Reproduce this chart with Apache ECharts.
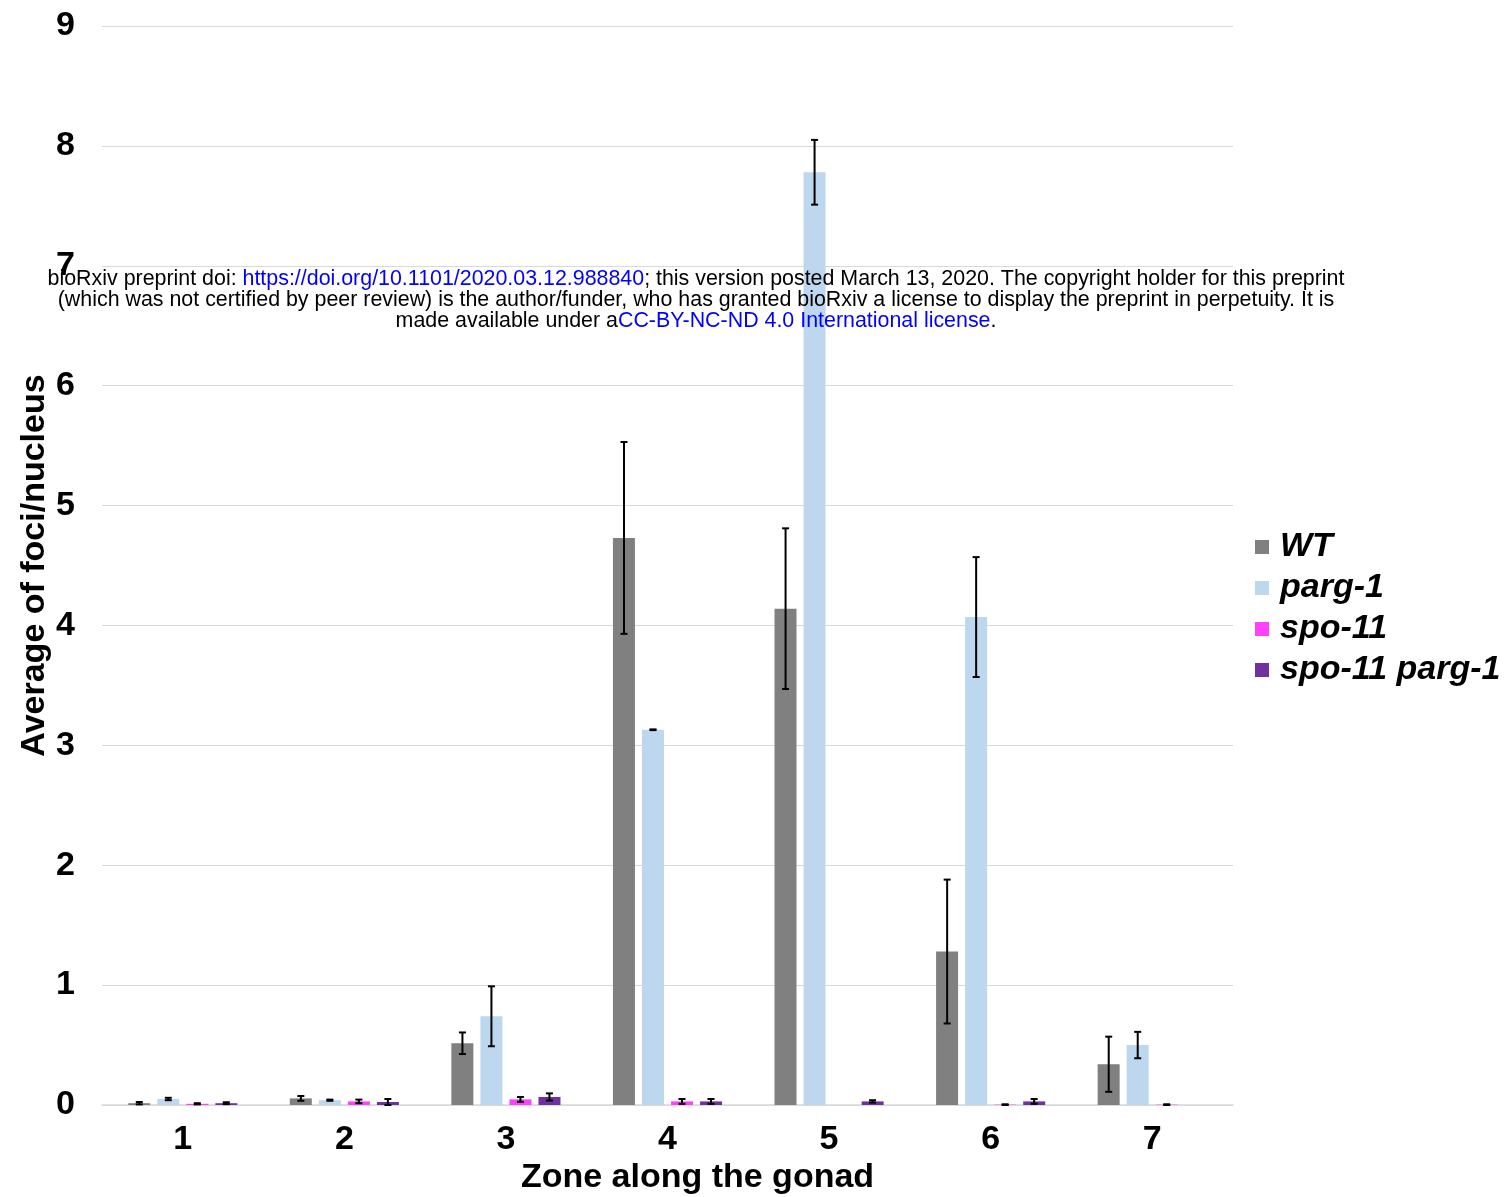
<!DOCTYPE html>
<html>
<head>
<meta charset="utf-8">
<script src="https://cdn.jsdelivr.net/npm/echarts@6/dist/echarts.min.js"></script>
<style>
  html, body { margin: 0; padding: 0; background: #fff; }
  #chart { width: 1512px; height: 1197px; }
</style>
</head>
<body>
<div id="chart"></div>
<script>
// zones along the gonad
const zones = ["1", "2", "3", "4", "5", "6", "7"];
const seriesNames = ["WT", "parg-1", "spo-11", "spo-11 parg-1"];
const colors = ["#808080", "#bdd7ee", "#ff40ff", "#7030a0"];

// mean foci per nucleus
const wtMean = [0.015, 0.055, 0.515, 4.73, 4.14, 1.28, 0.34];
const parg1Mean = [0.05, 0.04, 0.74, 3.13, 7.78, 4.07, 0.50];
const spo11Mean = [0.01, 0.03, 0.047, 0.03, 0, 0.003, 0.003];
const spo11parg1Mean = [0.015, 0.025, 0.067, 0.03, 0.03, 0.03, 0];

// error (+/-)
const wtErr = [0.01, 0.02, 0.09, 0.80, 0.67, 0.60, 0.23];
const parg1Err = [0.01, 0.005, 0.25, 0.003, 0.27, 0.50, 0.11];
const spo11Err = [0.005, 0.015, 0.02, 0.02, 0, 0.003, 0.003];
const spo11parg1Err = [0.008, 0.025, 0.03, 0.02, 0.01, 0.02, 0];

const means = [wtMean, parg1Mean, spo11Mean, spo11parg1Mean];
const errs = [wtErr, parg1Err, spo11Err, spo11parg1Err];

const yTicks = [0, 1, 2, 3, 4, 5, 6, 7, 8, 9];

const barW = 22;
const barGapPx = 7;

const chartInstance = echarts.init(document.getElementById("chart"));

const series = [];
means.forEach((m, i) => {
  series.push({
    name: seriesNames[i],
    type: "bar",
    data: m,
    barWidth: barW,
    barGap: "32%",
    barCategoryGap: "32%",
    itemStyle: { color: colors[i] },
    z: 2,
  });
});

// error bars, one custom series per group (skip zero errors)
means.forEach((m, i) => {
  const groupW = 4 * barW + 3 * barGapPx;
  const offset = -groupW / 2 + barW / 2 + i * (barW + barGapPx);
  const pts = [];
  m.forEach((v, k) => {
    if (errs[i][k] > 0) pts.push([k, v - errs[i][k], v + errs[i][k]]);
  });
  series.push({
    type: "custom",
    name: seriesNames[i] + " err",
    z: 5,
    silent: true,
    data: pts,
    renderItem: function (params, api) {
      const lo = api.coord([api.value(0), api.value(1)]);
      const hi = api.coord([api.value(0), api.value(2)]);
      const x = lo[0] + offset;
      const cap = 3.5;
      const st = { stroke: "#000", lineWidth: 2 };
      return {
        type: "group",
        children: [
          { type: "line", shape: { x1: x, y1: lo[1], x2: x, y2: hi[1] }, style: st },
          { type: "line", shape: { x1: x - cap, y1: lo[1], x2: x + cap, y2: lo[1] }, style: st },
          { type: "line", shape: { x1: x - cap, y1: hi[1], x2: x + cap, y2: hi[1] }, style: st },
        ],
      };
    },
  });
});

const font = "Liberation Sans, Arial, Helvetica, sans-serif";
const blue = "#0000ff";
const wmSize = 21.4;

const option = {
  animation: false,
  backgroundColor: "#fff",
  grid: { left: 102, right: 279, top: 26, bottom: 92, containLabel: false, outerBoundsMode: "none" },
  legend: {
    data: seriesNames,
    orient: "vertical",
    left: 1250,
    top: 525,
    icon: "rect",
    itemWidth: 14,
    itemHeight: 14,
    itemGap: 7,
    textStyle: {
      fontFamily: font,
      fontSize: 34,
      fontWeight: "bold",
      fontStyle: "italic",
      color: "#000",
      lineHeight: 34,
      padding: [0, 0, 0, 6],
    },
  },
  xAxis: {
    type: "category",
    data: zones,
    name: "Zone along the gonad",
    nameLocation: "middle",
    nameGap: 56,
    nameMoveOverlap: false,
    nameTextStyle: {
      fontFamily: font,
      fontSize: 34,
      fontWeight: "bold",
      color: "#000",
      padding: [0, 0, 0, 60],
    },
    axisLine: { show: true, lineStyle: { color: "#d9d9d9", width: 1.5 } },
    axisTick: { show: false },
    axisLabel: {
      fontFamily: font,
      fontSize: 34,
      fontWeight: "bold",
      color: "#000",
      margin: 18,
    },
  },
  yAxis: {
    type: "value",
    min: yTicks[0],
    max: yTicks[yTicks.length - 1],
    interval: 1,
    name: "Average of foci/nucleus",
    nameLocation: "middle",
    nameGap: 50,
    nameMoveOverlap: false,
    nameTextStyle: {
      fontFamily: font,
      fontSize: 34,
      fontWeight: "bold",
      color: "#000",
    },
    axisLine: { show: false },
    axisTick: { show: false },
    axisLabel: {
      fontFamily: font,
      fontSize: 34,
      fontWeight: "bold",
      color: "#000",
      margin: 27,
    },
    splitLine: { lineStyle: { color: "#d9d9d9", width: 1 } },
  },
  graphic: [
    {
      type: "text",
      z: 100,
      x: 696,
      y: 279,
      style: {
        text: "{k|bioRxiv preprint doi: }{b|https://doi.org/10.1101/2020.03.12.988840}{k|; this version posted March 13, 2020. The copyright holder for this preprint}",
        align: "center",
        verticalAlign: "middle",
        rich: {
          k: { fontFamily: font, fontSize: wmSize, fill: "#000" },
          b: { fontFamily: font, fontSize: wmSize, fill: blue },
        },
      },
    },
    {
      type: "text",
      z: 100,
      x: 696,
      y: 300,
      style: {
        text: "(which was not certified by peer review) is the author/funder, who has granted bioRxiv a license to display the preprint in perpetuity. It is",
        align: "center",
        verticalAlign: "middle",
        fontFamily: font,
        fontSize: wmSize,
        fill: "#000",
      },
    },
    {
      type: "text",
      z: 100,
      x: 696,
      y: 321,
      style: {
        text: "{k|made available under a}{b|CC-BY-NC-ND 4.0 International license}{k|.}",
        align: "center",
        verticalAlign: "middle",
        rich: {
          k: { fontFamily: font, fontSize: wmSize, fill: "#000" },
          b: { fontFamily: font, fontSize: wmSize, fill: blue },
        },
      },
    },
  ],
  series: series,
};

chartInstance.setOption(option);
</script>
</body>
</html>
